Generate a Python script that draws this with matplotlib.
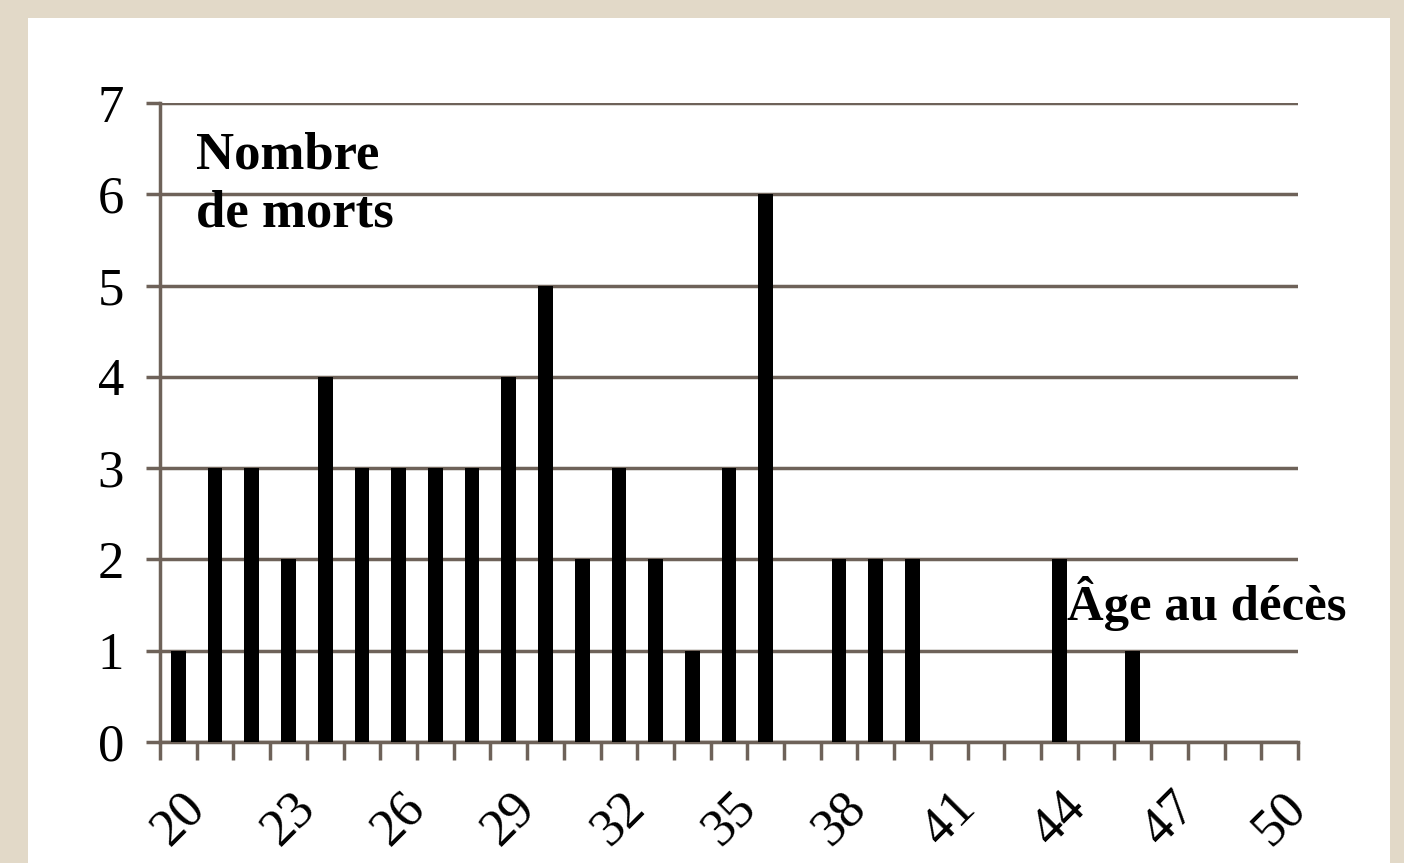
import numpy as np
import matplotlib.pyplot as plt
from matplotlib.patches import Rectangle

# Données : âge au décès et nombre de morts
ages = list(range(20, 51))
morts = [1, 3, 3, 2, 4, 3, 3, 3, 3, 4, 5, 2, 3, 2, 1, 3, 6, 0, 2, 2, 2,
         0, 0, 0, 2, 0, 1, 0, 0, 0, 0]
age_labels = [str(a) for a in ages[::3]]

plt.rcParams['font.family'] = ['Liberation Serif', 'DejaVu Serif']

fond = '#e2d9c8'
grille = '#6e6259'

fig = plt.figure(figsize=(14.04, 8.63), dpi=100, facecolor=fond)
# panneau blanc
fig.patches.append(Rectangle((28 / 1404, 0), (1390 - 28) / 1404, 1 - 18 / 863,
                             transform=fig.transFigure, facecolor='white',
                             edgecolor='none', zorder=-5))

ax = fig.add_axes([160 / 1404, 1 - 742 / 863, (1298 - 160) / 1404, (742 - 103) / 863])
ax.set_facecolor('white')

x = np.arange(len(ages))
ax.bar(x, morts, width=0.4, color='black', zorder=3)

ax.set_xlim(-0.5, len(ages) - 0.5)
ax.set_ylim(0, 7)

# lignes de grille horizontales (qui dépassent à gauche comme des graduations)
ax.set_yticks(range(0, 8))
ax.yaxis.grid(True, color=grille, linewidth=2.5, zorder=1)
ax.tick_params(axis='y', length=10, width=2.5, color=grille, labelsize=38, pad=16)

# graduations x entre les catégories, étiquettes tous les 3 ans
ax.set_xticks(np.arange(-0.5, len(ages)), minor=False)
ax.set_xticklabels([])
ax.tick_params(axis='x', which='major', length=13, width=2.5, color=grille, direction='out')
ax.set_xticks(x[::3], minor=True)
ax.set_xticklabels(age_labels, minor=True, rotation=45, ha='center', va='top', fontsize=38)
ax.tick_params(axis='x', which='minor', length=0, pad=30)

for s in ['top', 'right']:
    ax.spines[s].set_visible(False)
ax.spines['left'].set_color(grille)
ax.spines['left'].set_linewidth(2.5)
ax.spines['bottom'].set_color(grille)
ax.spines['bottom'].set_linewidth(2.5)

ax.text(0.032, 0.955, 'Nombre\nde morts', transform=ax.transAxes, fontsize=38,
        fontweight='bold', va='top', ha='left', linespacing=1.25)
ax.text(24.2, 1.52, 'Âge au décès', fontsize=36.5, fontweight='bold',
        va='center', ha='left', zorder=4)

fig.savefig('out.png', dpi=100, facecolor=fond)
